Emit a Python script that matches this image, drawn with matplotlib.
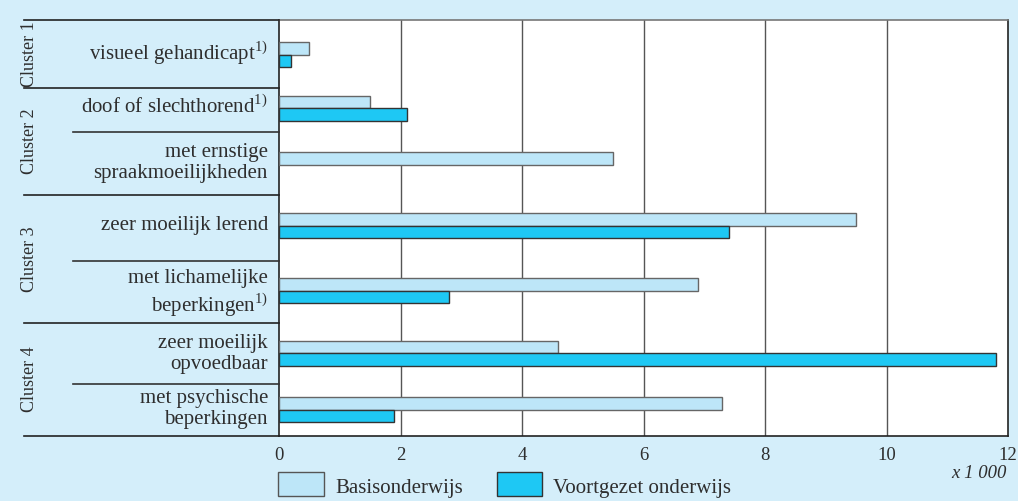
import matplotlib
matplotlib.use("Agg")
import matplotlib.pyplot as plt
from matplotlib.lines import Line2D
from matplotlib.patches import Rectangle

plt.rcParams['font.family'] = ['Liberation Serif', 'DejaVu Serif']
plt.rcParams['mathtext.fontset'] = 'custom'
plt.rcParams['mathtext.rm'] = 'Liberation Serif'

categories = [
    "visueel gehandicapt$^{1)}$",
    "doof of slechthorend$^{1)}$",
    "met ernstige\nspraakmoeilijkheden",
    "zeer moeilijk lerend",
    "met lichamelijke\nbeperkingen$^{1)}$",
    "zeer moeilijk\nopvoedbaar",
    "met psychische\nbeperkingen",
]
clusters = ["Cluster 1", "Cluster 2", "Cluster 3", "Cluster 4"]
cluster_sizes = [1, 2, 2, 2]
basis = [0.5, 1.5, 5.5, 9.5, 6.9, 4.6, 7.3]
voortgezet = [0.2, 2.1, None, 7.4, 2.8, 11.8, 1.9]
xticks = [0, 2, 4, 6, 8, 10, 12]

W, H = 1018, 501
bg = "#d4eefa"
c_basis = "#bde6f8"
c_voort = "#1ec8f4"
txt = "#2e2e2e"

# layout in pixels (from top of figure)
ax_left, ax_right, ax_top, ax_bot = 279, 1008, 20, 436
row_centers = [54.5, 108, 164.5, 225.5, 290.5, 353, 409.5]
label_y = [53, 107, 163, 226, 294, 354, 409]
row_bounds = [20, 88, 132, 195, 261, 323, 384, 436]
bar_h = 12.5


def fx(x):
    return x / W


def fy(y):
    return 1 - y / H


fig = plt.figure(figsize=(W / 100, H / 100), dpi=100)
fig.patch.set_facecolor(bg)
ax = fig.add_axes([fx(ax_left), fy(ax_bot), (ax_right - ax_left) / W, (ax_bot - ax_top) / H])
ax.set_facecolor("white")
ax.set_xlim(0, 12)
ax.set_ylim(ax_bot, ax_top)

yb = [c - bar_h / 2 for c in row_centers]
ax.barh(yb, basis, height=bar_h, color=c_basis, edgecolor="#666666", linewidth=1, zorder=3)
vals = [v for v in voortgezet if v is not None]
yv = [c + bar_h / 2 for c, v in zip(row_centers, voortgezet) if v is not None]
ax.barh(yv, vals, height=bar_h, color=c_voort, edgecolor="#333333", linewidth=1, zorder=3)

for t in xticks[1:-1]:
    ax.axvline(t, color="#555555", lw=1, zorder=1)

for s in ["left", "right", "bottom"]:
    ax.spines[s].set_color("#222222")
    ax.spines[s].set_linewidth(1.2)
ax.spines["top"].set_color("#777777")
ax.spines["top"].set_linewidth(1.2)
ax.set_yticks([])
ax.set_xticks(xticks)
ax.tick_params(axis="x", length=0, pad=8, labelsize=13.5, labelcolor=txt)

# category labels
for lab, y in zip(categories, label_y):
    fig.text(fx(268), fy(y), lab, ha="right", va="center", fontsize=15,
             color=txt, linespacing=1.15)

# separator lines on the left panel
cum = [0]
for s in cluster_sizes:
    cum.append(cum[-1] + s)
for i, yb_ in enumerate(row_bounds):
    x0 = 24 if i in cum else 73
    col = "#222222" if i in cum else "#333333"
    fig.add_artist(Line2D([fx(x0), fx(ax_left)], [fy(yb_), fy(yb_)], color=col,
                          lw=1.2, transform=fig.transFigure))

# cluster labels
for k, name in enumerate(clusters):
    ymid = (row_bounds[cum[k]] + row_bounds[cum[k + 1]]) / 2
    fig.text(fx(30), fy(ymid), name, rotation=90, ha="center", va="center",
             fontsize=13, color=txt)

fig.text(fx(1007), fy(474), "x 1 000", ha="right", va="center", fontsize=13.5,
         style="italic", color=txt)

# legend
fig.add_artist(Rectangle((fx(278), fy(496)), 46 / W, 24 / H, facecolor=c_basis,
                         edgecolor="#555555", lw=1, transform=fig.transFigure))
fig.text(fx(335), fy(488), "Basisonderwijs", ha="left", va="center", fontsize=15, color=txt)
fig.add_artist(Rectangle((fx(497), fy(496)), 45 / W, 24 / H, facecolor=c_voort,
                         edgecolor="#333333", lw=1, transform=fig.transFigure))
fig.text(fx(553), fy(488), "Voortgezet onderwijs", ha="left", va="center", fontsize=15, color=txt)

fig.savefig("out.png", dpi=100, facecolor=bg)
